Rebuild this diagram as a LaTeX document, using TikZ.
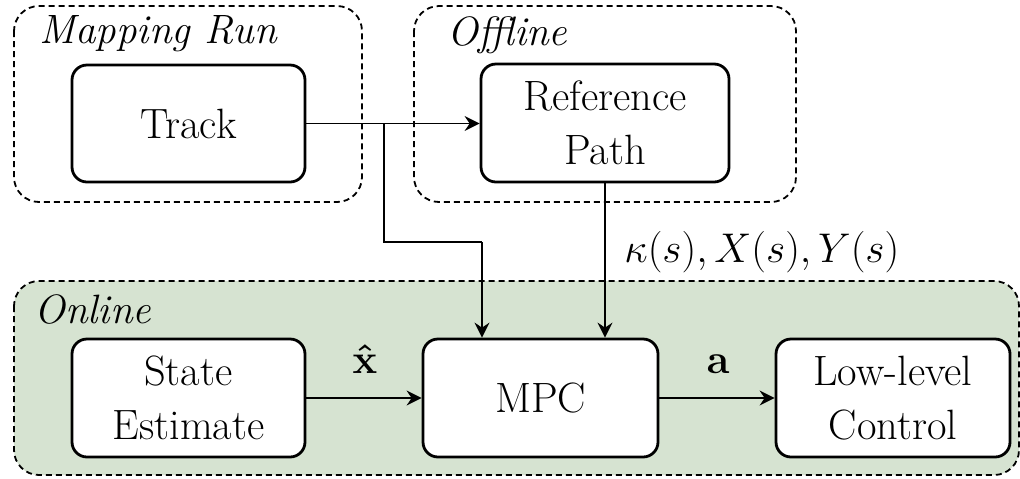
\documentclass[tikz,border=0pt]{standalone}
\usetikzlibrary{arrows.meta}
\definecolor{onlinegreen}{RGB}{214,227,209}
\begin{document}
\begin{tikzpicture}[x=0.5pt,y=-0.5pt,
  font=\fontsize{21.2}{27}\selectfont,
  block/.style={draw, line width=1.4pt, rounded corners=7.5pt, fill=white, align=center, inner sep=0pt},
  group/.style={draw, line width=0.9pt, dash pattern=on 3pt off 2pt, rounded corners=12.5pt},
  conn/.style={line width=0.8pt},
  arr/.style={conn, -{Stealth[length=7.5pt,width=7.5pt,inset=2.5pt]}},
  title/.style={font=\fontsize{20.5}{27}\selectfont\itshape, anchor=base west, inner sep=0pt},
  lab/.style={font=\fontsize{20.5}{24}\selectfont, inner sep=0pt}]
\useasboundingbox (0,0) rectangle (1020,478);
% groups
\draw[group, fill=onlinegreen] (14,281) rectangle (1019,475);
\draw[group] (14,6) rectangle (362,202);
\draw[group] (414,6) rectangle (796,202);
\node[title] (tmap) at (39,43) {Mapping Run};
\node[title] (toff) at (447,45) {Offline};
\node[title] (tonl) at (34,323) {Online};
% blocks
\node[block, minimum width=116.5pt, minimum height=58.5pt] (track) at (188.5,123.5) {Track};
\node[block, minimum width=124pt, minimum height=59pt] (ref) at (605,123) {Reference\\Path};
\node[block, minimum width=116.5pt, minimum height=59pt] (state) at (188.5,398) {State\\Estimate};
\node[block, minimum width=117.5pt, minimum height=59pt] (mpc) at (540.5,398) {MPC};
\node[block, minimum width=117pt, minimum height=59pt] (low) at (893,398) {Low-level\\Control};
% connectors
\coordinate (br) at (384,123.5);
\coordinate (bend) at (482,242);
\draw[arr] (track.east) -- (track.east -| ref.west);
\draw[conn] (br) |- (bend);
\draw[arr] (bend) -- (bend |- mpc.north);
\draw[arr] (ref.south) -- (ref.south |- mpc.north);
\draw[arr] (state.east) -- (state.east -| mpc.west);
\draw[arr] (mpc.east) -- (mpc.east -| low.west);
% labels
\node[lab, anchor=base west] (lk) at (624,262) {$\kappa(s), X(s), Y(s)$};
\node[lab, anchor=base] (lx) at (365,373) {$\mathbf{\hat{x}}$};
\node[lab, anchor=base] (la) at (718,373) {$\mathbf{a}$};
\end{tikzpicture}
\end{document}
